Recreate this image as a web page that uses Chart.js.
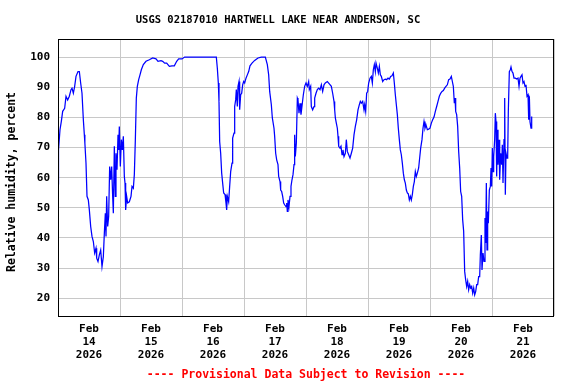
<!DOCTYPE html>
<html>
<head>
<meta charset="utf-8">
<script src="https://cdn.jsdelivr.net/npm/chart.js@4.4.1/dist/chart.umd.min.js"></script>
<style>
  html, body { margin: 0; padding: 0; background: #fff; }
  canvas { display: block; }
</style>
</head>
<body>
<canvas id="rhChart" width="576" height="384"></canvas>
<script>
const TITLE = 'USGS 02187010 HARTWELL LAKE NEAR ANDERSON, SC';
const FOOTER = '---- Provisional Data Subject to Revision ----';
const Y_TITLE = 'Relative humidity, percent';

// x ticks: one label per day (at noon), grid at midnight
const tickMonth = 'Feb';
const tickYear = '2026';
const tickDays = ['14', '15', '16', '17', '18', '19', '20', '21'];
const yTicks = [20, 30, 40, 50, 60, 70, 80, 90, 100];

// hours since Feb 14 00:00
const hours = [
    0, 0.2, 0.77, 1.29, 1.81, 2.58, 3.1, 3.74, 4.39, 5.03, 5.42, 5.94, 6.45, 6.97, 7.74, 8.26, 8.77, 9.29, 9.81, 10.2,
    10.4, 10.84, 11.23, 11.74, 12.13, 12.65, 13.16, 13.68, 14.19, 14.71, 14.97, 15.48, 16.0, 16.52, 17.03, 17.55, 17.94, 18.32, 18.58, 18.84,
    19.23, 19.61, 20.0, 20.39, 20.78, 21.16, 21.42, 21.81, 22.19, 22.45, 22.84, 23.23, 23.48, 23.74, 24.13, 24.52, 24.9, 25.29, 25.68, 25.94,
    26.19, 26.58, 26.97, 27.61, 28.26, 28.65, 29.16, 29.55, 29.94, 30.32, 30.71, 31.23, 31.74, 32.26, 33.03, 34.06, 35.35, 36.65, 37.94, 38.71,
    39.87, 40.52, 41.29, 42.07, 43.1, 44.13, 45.03, 45.94, 46.71,
    48, 49.03, 61.29, 61.68, 62.06, 62.32, 62.58, 62.97, 63.36, 63.74, 64.13, 64.65, 65.03, 65.29, 65.55, 66.06, 66.45, 66.84, 67.36, 67.61,
    68.13, 68.39, 68.77, 69.03, 69.42, 69.68, 70.07, 70.32, 70.71, 71.1, 71.48, 71.87, 72.26, 72.77, 73.29, 73.81, 74.32, 75.1, 76.13, 77.42,
    78.71, 80.26, 81.03, 81.55, 81.94, 82.58, 82.97, 83.61, 83.87, 84.26, 84.65, 85.16, 85.42, 85.94, 86.19, 86.58, 86.97, 87.36, 87.74, 88.26,
    88.52, 88.77, 89.03, 89.42, 89.81, 90.19, 90.58, 90.97, 91.36, 91.61, 91.87, 92.26, 92.65, 92.9, 93.29, 93.68, 94.06, 94.58, 94.97, 95.48,
    96.0,
    96.52, 97.03, 97.29, 97.81, 98.06, 98.58, 99.1, 99.36, 99.87, 100.39, 100.9, 101.42, 101.94, 102.45, 102.97, 103.48, 104.26, 105.03, 105.81, 106.32,
    106.84, 107.1, 107.36, 107.74, 108.13, 108.39, 108.65, 109.16, 109.55, 109.94, 110.32, 110.71, 111.23, 111.61, 112.0, 112.52, 113.03, 113.55, 114.07, 114.58,
    115.1, 115.61, 116.13, 116.65, 117.03, 117.42, 117.94, 118.45, 118.71, 119.1, 119.48, 119.87, 120.26, 120.78, 121.29, 121.68, 122.06, 122.45, 122.84, 123.1,
    123.61, 124.0, 124.39, 124.78, 125.16, 125.68, 126.19, 126.71, 127.23, 127.74, 128.26, 128.77, 129.29, 129.81, 130.19, 130.58, 130.97, 131.36, 131.74, 132.13,
    132.52, 132.9, 133.29, 133.68, 134.07, 134.45, 134.84, 135.23, 135.61, 136.0, 136.39, 136.77, 137.16, 137.55, 137.94, 138.32, 138.71, 139.1, 139.61, 140.0,
    140.39, 140.9, 141.29, 141.68, 142.06, 142.45, 142.97, 143.48, 144.0,
    144.52, 145.03, 145.55, 146.07, 146.58, 147.1, 147.61, 148.13, 148.65, 149.16, 149.68, 150.19, 150.71, 151.23, 151.74, 152.26, 152.65, 153.03, 153.42, 153.68,
    153.94, 154.32, 154.71, 155.1, 155.49, 155.87, 156.26, 156.65, 157.03, 157.42, 157.81, 158.2, 158.58, 158.97, 159.36, 159.74, 160.13, 160.52, 160.91, 161.29,
    161.68, 162.07, 162.45, 162.84, 163.23, 163.49, 163.87, 164.13, 164.52, 164.91, 165.29, 165.55, 165.81, 166.07, 166.32, 166.58, 166.97, 167.36, 167.62, 167.87,
    168.13, 168.39, 168.65, 169.03, 169.29, 169.55, 169.81, 170.07, 170.32, 170.71, 170.97, 171.36, 171.75, 172.0, 172.26, 172.65, 172.91, 173.16, 173.42, 173.81,
    174.07, 174.32, 174.71, 175.1, 175.36, 175.75, 176.13, 176.52, 177.04, 177.55, 178.07, 178.46, 178.84, 179.23, 179.62, 180.0, 180.39, 180.78, 181.16, 181.55,
    181.94, 182.2, 182.46, 182.71, 183.1, 183.36
];

const humidity = [
    57.9, 69.2, 75.9, 78.7, 82, 83, 87, 85.8, 87, 89.2, 89.7, 88, 90.3, 93.6, 95.2, 95.2, 91.4, 88, 79.2, 74.2,
    71.5, 64.8, 53.8, 52.6, 49.3, 43.8, 40.5, 38.8, 35, 36.6, 33.3, 32.2, 34.4, 36, 30.5, 33.8, 41.6, 48.2, 40.5, 53.8,
    43.8, 47.1, 63.7, 59.3, 63.7, 53.8, 48.2, 70.4, 53.8, 68.1, 62.6, 74.2, 69.2, 77, 63.7, 72.6, 69.2, 73.7, 60.4, 58.2,
    49.3, 53.8, 51.6, 52, 53.8, 57.1, 56.5, 61, 72.6, 86.4, 90.3, 92.5, 94.1, 95.8, 97.5, 98.6, 99.1, 99.7, 99.4, 98.6,
    98.8, 98.6, 98, 98, 96.9, 97.1, 97.1, 98.6, 99.4,
    99.4, 100, 100, 96.3, 91.4, 85.3, 72, 68.1, 61.5, 58.2, 54.9, 54.4, 51.6, 49.3, 53.8, 52, 57.1, 62, 64.8, 73.1,
    74.8, 83.6, 85.8, 89.2, 83.6, 90.3, 91.9, 82.5, 87.5, 88, 90.8, 91.9, 91.4, 93, 94.1, 95.2, 97.1, 98, 98.9, 99.7,
    100, 100, 97.5, 94.1, 88.6, 84.2, 79.8, 76.4, 73.7, 68.1, 65.9, 64.3, 60.4, 58.7, 55.9, 55.4, 53.8, 51.6, 51, 50.4,
    51.6, 48.8, 52.6, 50.4, 53.8, 57.1, 59.3, 61, 64.3, 74.2, 67, 71.5, 86.4, 85.8, 81.4, 84.7, 80.9, 84.7, 87.5, 90.3,
    91.4,
    90.3, 91.9, 89.2, 90.3, 83.6, 82.5, 83.6, 86.4, 88, 89.2, 89.7, 89.2, 90.8, 88.6, 90.8, 91.4, 91.9, 91.1, 90.3, 88,
    85.3, 82.5, 79.8, 78.1, 76.4, 73.7, 70.4, 69.8, 70.4, 67.6, 69.2, 67, 68.1, 72.6, 68.7, 67.6, 66.5, 68.1, 69.8, 74.2,
    77, 79.2, 82.5, 84.2, 85.3, 84.7, 85.3, 82.5, 84.2, 82, 88, 88.6, 91.4, 93, 93.6, 91.4, 95.8, 97.5, 95.2, 98,
    96.3, 94.7, 96.9, 94.1, 93.6, 91.9, 92.5, 92.7, 92.5, 93, 92.7, 93.6, 93.8, 94.7, 91.4, 87.5, 84.2, 80.9, 76.4, 72.6,
    69.2, 67.6, 64.8, 61.5, 59.3, 58.2, 55.9, 54.9, 54.6, 52.6, 53.8, 52.6, 54.4, 57.1, 58.7, 62, 60.4, 61.5, 63.2, 66.5,
    69.8, 72.6, 76.4, 78.6, 76.4, 77.5, 75.9, 76.1, 76.4,
    78.1, 79.2, 80.1, 82, 83.6, 85.3, 87, 88, 88.6, 88.9, 89.7, 90.3, 90.8, 92.5, 92.7, 93.6, 91.9, 90.3, 84.7, 86.4,
    82, 80.9, 77, 68.7, 63.2, 55.4, 53.8, 46, 42.2, 28.9, 26.1, 23.9, 25.6, 22.8, 24.5, 23.4, 23.9, 21.7, 23.4, 21.1,
    22.2, 24.5, 24.5, 27.2, 27.2, 34.4, 41, 29.4, 35, 32.2, 46.6, 38.3, 58.2, 36, 48.8, 44.9, 55.9, 57.1, 63.2, 57.1,
    69.8, 62, 67, 72.6, 81.4, 78.6, 60.4, 75.9, 64.3, 72.6, 59.3, 68.1, 64.3, 70.9, 58.2, 72.6, 86.4, 54.3, 68.1, 66.5,
    67, 82, 95.2, 95.8, 96.7, 95.2, 94.7, 93, 93, 92.7, 93, 90.3, 93, 93.6, 94.1, 91.4, 91.9, 90.3, 90.8, 87,
    87.5, 79.2, 87, 78.6, 76.4, 80.3
];

const FONT = '"DejaVu Sans Mono", "Liberation Mono", monospace';
const GRID = '#c8c8c8';

// title, y-axis title, footer and plot frame
const framePlugin = {
    id: 'frame',
    afterDraw(chart) {
        const { ctx, chartArea: a } = chart;
        ctx.save();
        ctx.strokeStyle = '#000';
        ctx.lineWidth = 1;
        ctx.strokeRect(a.left + 0.5, a.top + 0.5, a.right - a.left - 1, a.bottom - a.top);
        ctx.textAlign = 'center';
        ctx.textBaseline = 'middle';
        ctx.fillStyle = '#000';
        ctx.font = 'bold 10.5px ' + FONT;
        ctx.fillText(TITLE, 278, 20);
        ctx.save();
        ctx.translate(12, 182);
        ctx.rotate(-Math.PI / 2);
        ctx.font = 'bold 11.5px ' + FONT;
        ctx.fillText(Y_TITLE, 0, 0);
        ctx.restore();
        ctx.fillStyle = '#ff0000';
        ctx.font = 'bold 11.5px ' + FONT;
        ctx.fillText(FOOTER, 306, 375);
        ctx.restore();
    }
};

const xTicks = [];
for (let i = 0; i <= tickDays.length; i++) {
    xTicks.push(i * 24);
    if (i < tickDays.length) xTicks.push(i * 24 + 12);
}

const ctx = document.getElementById('rhChart').getContext('2d');
new Chart(ctx, {
    type: 'line',
    data: {
        datasets: [{
            data: hours.map((h, i) => ({ x: h, y: humidity[i] })),
            borderColor: '#0000ff',
            borderWidth: 1.25,
            pointRadius: 0,
            fill: false,
            tension: 0
        }]
    },
    options: {
        responsive: false,
        animation: false,
        layout: { padding: { top: 39, right: 22, left: 0, bottom: 0 } },
        plugins: { legend: { display: false }, tooltip: { enabled: false } },
        scales: {
            x: {
                type: 'linear',
                min: 0,
                max: 192,
                afterBuildTicks: s => { s.ticks = xTicks.map(v => ({ value: v })); },
                afterFit: s => { s.height = 68; },
                border: { display: false },
                grid: {
                    drawTicks: false,
                    color: c => (c.tick && c.tick.value % 24 === 0) ? GRID : 'rgba(0,0,0,0)'
                },
                ticks: {
                    autoSkip: false,
                    maxRotation: 0,
                    padding: 7,
                    color: '#000',
                    font: { family: FONT, size: 11, weight: 'bold', lineHeight: '13px' },
                    callback: v => v % 24 === 12 ? [tickMonth, tickDays[(v - 12) / 24], tickYear] : ''
                }
            },
            y: {
                min: 14.1,
                max: 106,
                afterBuildTicks: s => { s.ticks = yTicks.map(v => ({ value: v })); },
                afterFit: s => { s.width = 58; },
                border: { display: false },
                grid: { drawTicks: false, color: GRID },
                ticks: {
                    padding: 8,
                    color: '#000',
                    font: { family: FONT, size: 11, weight: 'bold' }
                }
            }
        }
    },
    plugins: [framePlugin]
});
</script>
</body>
</html>
